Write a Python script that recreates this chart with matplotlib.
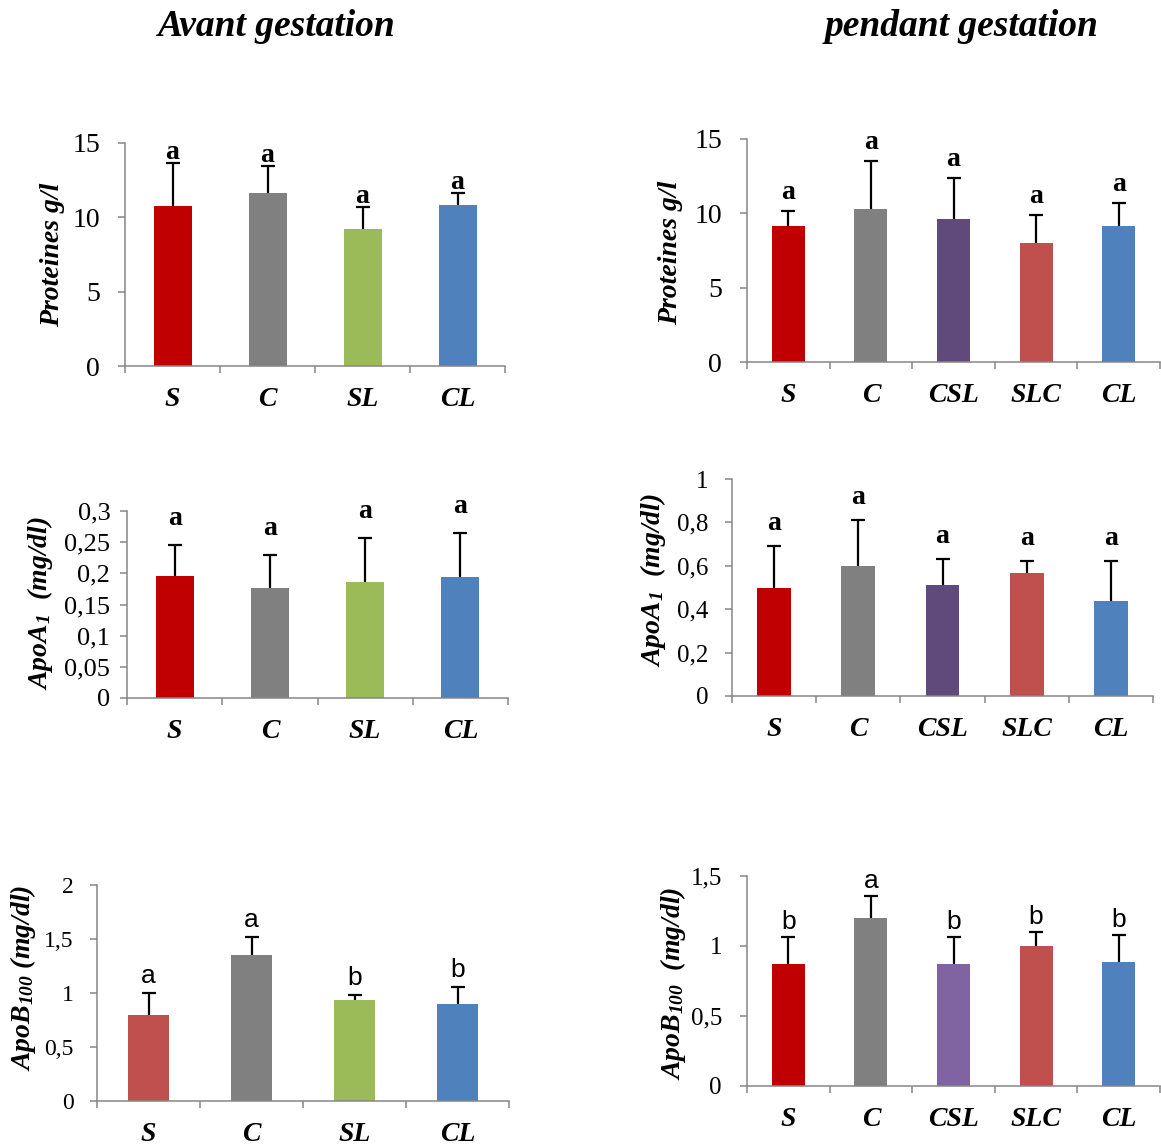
import numpy as np
import matplotlib.pyplot as plt

plt.rcParams['font.family'] = 'Liberation Serif'
plt.rcParams['mathtext.fontset'] = 'custom'
plt.rcParams['mathtext.it'] = 'Liberation Serif:italic:bold'
plt.rcParams['mathtext.rm'] = 'Liberation Serif:italic:bold'

# ---- data ----
cats_avant = ['S', 'C', 'SL', 'CL']
cats_pendant = ['S', 'C', 'CSL', 'SLC', 'CL']

prot_avant = [10.77, 11.65, 9.22, 10.84]
prot_avant_err = [2.9, 1.82, 1.46, 0.83]
prot_avant_let = ['a', 'a', 'a', 'a']

prot_pend = [9.15, 10.3, 9.62, 8.0, 9.15]
prot_pend_err = [1.03, 3.19, 2.79, 1.92, 1.57]
prot_pend_let = ['a', 'a', 'a', 'a', 'a']

apoa_avant = [0.196, 0.177, 0.186, 0.194]
apoa_avant_err = [0.0495, 0.0528, 0.0705, 0.071]
apoa_avant_let = ['a', 'a', 'a', 'a']

apoa_pend = [0.498, 0.598, 0.51, 0.566, 0.436]
apoa_pend_err = [0.195, 0.214, 0.122, 0.058, 0.188]
apoa_pend_let = ['a', 'a', 'a', 'a', 'a']

apob_avant = [0.793, 1.349, 0.932, 0.895]
apob_avant_err = [0.204, 0.172, 0.049, 0.161]
apob_avant_let = ['a', 'a', 'b', 'b']

apob_pend = [0.869, 1.198, 0.869, 0.998, 0.884]
apob_pend_err = [0.197, 0.159, 0.197, 0.102, 0.192]
apob_pend_let = ['b', 'a', 'b', 'b', 'b']

yt_prot = [0, 5, 10, 15]
yl_prot = ['0', '5', '10', '15']
yt_apoa_av = [0, 0.05, 0.1, 0.15, 0.2, 0.25, 0.3]
yl_apoa_av = ['0', '0,05', '0,1', '0,15', '0,2', '0,25', '0,3']
yt_apoa_pe = [0, 0.2, 0.4, 0.6, 0.8, 1]
yl_apoa_pe = ['0', '0,2', '0,4', '0,6', '0,8', '1']
yt_apob_av = [0, 0.5, 1, 1.5, 2]
yl_apob_av = ['0', '0,5', '1', '1,5', '2']
yt_apob_pe = [0, 0.5, 1, 1.5]
yl_apob_pe = ['0', '0,5', '1', '1,5']

RED = '#C00000'
GRAY = '#808080'
GREEN = '#9BBB59'
BLUE = '#4F81BD'
PURPLE = '#604A7B'
LPURPLE = '#8064A2'
LRED = '#C0504D'

W, H = 1161, 1145
fig = plt.figure(figsize=(W / 100, H / 100), dpi=100)


def add_ax(l, r, t, b):
    return fig.add_axes([l / W, 1 - b / H, (r - l) / W, (b - t) / H])


def panel(ax, cats, means, errs, colors, letters, yt, yl, ylabel, lab_xy,
          let_off, let_font, tick_fs=18, tick_pad=11):
    x = np.arange(len(cats))
    ax.bar(x, means, width=0.4, color=colors, zorder=2)
    eb = ax.errorbar(x, means, yerr=[np.zeros(len(x)), errs], fmt='none',
                     ecolor='black', elinewidth=1.6, capsize=5, capthick=1.6, zorder=3)
    eb[1][0].set_visible(False)  # only the upper cap
    for xi, m, e, t in zip(x, means, errs, letters):
        ax.annotate(t, (xi, m + e), xytext=(0, let_off), textcoords='offset pixels',
                    ha='center', va='baseline', **let_font)
    ax.set_xlim(-0.5, len(cats) - 0.5)
    ax.set_ylim(yt[0], yt[-1])
    ax.set_yticks(yt)
    ax.set_yticklabels(yl, fontsize=tick_fs)
    ax.set_xticks(x)
    ax.set_xticklabels(cats, fontsize=20, fontweight='bold', style='italic')
    ax.set_xticks(np.arange(len(cats) + 1) - 0.5, minor=True)
    ax.tick_params(axis='x', which='major', length=0, pad=15)
    ax.tick_params(axis='x', which='minor', length=5, width=1.1, color='#868686', direction='out')
    ax.tick_params(axis='y', length=5, width=1.1, color='#868686', pad=tick_pad)
    for s in ['top', 'right']:
        ax.spines[s].set_visible(False)
    for s in ['left', 'bottom']:
        ax.spines[s].set_color('#868686')
        ax.spines[s].set_linewidth(1.1)
    ax.set_ylabel(ylabel, fontsize=20, fontweight='bold', style='italic')
    ax.yaxis.set_label_coords(*lab_xy)


bold_serif = dict(fontsize=20, fontweight='bold', family='Liberation Serif')
sans = dict(fontsize=19, family='Liberation Sans')

ax1 = add_ax(125, 505, 143, 366)
panel(ax1, cats_avant, prot_avant, prot_avant_err, [RED, GRAY, GREEN, BLUE],
      prot_avant_let, yt_prot, yl_prot, 'Proteines g/l', (-0.158, 0.5),
      4, bold_serif, tick_fs=20, tick_pad=13)

ax2 = add_ax(747, 1160, 139, 362)
panel(ax2, cats_pendant, prot_pend, prot_pend_err, [RED, GRAY, PURPLE, LRED, BLUE],
      prot_pend_let, yt_prot, yl_prot, 'Proteines g/l', (-0.155, 0.49),
      12, bold_serif, tick_fs=20, tick_pad=13)

ax3 = add_ax(127, 508, 511, 698)
panel(ax3, cats_avant, apoa_avant, apoa_avant_err, [RED, GRAY, GREEN, BLUE],
      apoa_avant_let, yt_apoa_av, yl_apoa_av, r'$ApoA_{1}$  (mg/dl)', (-0.189, 0.51),
      20, bold_serif, tick_fs=19, tick_pad=7)

ax4 = add_ax(732, 1153, 479, 696)
panel(ax4, cats_pendant, apoa_pend, apoa_pend_err, [RED, GRAY, PURPLE, LRED, BLUE],
      apoa_pend_let, yt_apoa_pe, yl_apoa_pe, r'$ApoA_{1}$  (mg/dl)', (-0.152, 0.535),
      16, bold_serif, tick_fs=18, tick_pad=12)

ax5 = add_ax(97, 509, 885, 1101)
panel(ax5, cats_avant, apob_avant, apob_avant_err, [LRED, GRAY, GREEN, BLUE],
      apob_avant_let, yt_apob_av, yl_apob_av, r'$ApoB_{100}$ (mg/dl)', (-0.143, 0.57),
      10, sans, tick_fs=17, tick_pad=12)

ax6 = add_ax(747, 1160, 876, 1086)
panel(ax6, cats_pendant, apob_pend, apob_pend_err, [RED, GRAY, LPURPLE, LRED, BLUE],
      apob_pend_let, yt_apob_pe, yl_apob_pe, r'$ApoB_{100}$  (mg/dl)', (-0.143, 0.49),
      8, sans, tick_fs=18, tick_pad=13)

fig.text(277 / W, 1 - 27 / H, 'Avant gestation', ha='center', va='center',
         fontsize=27, fontweight='bold', style='italic')
fig.text(962 / W, 1 - 27 / H, 'pendant gestation', ha='center', va='center',
         fontsize=27, fontweight='bold', style='italic')

fig.savefig('out.png', dpi=100)
